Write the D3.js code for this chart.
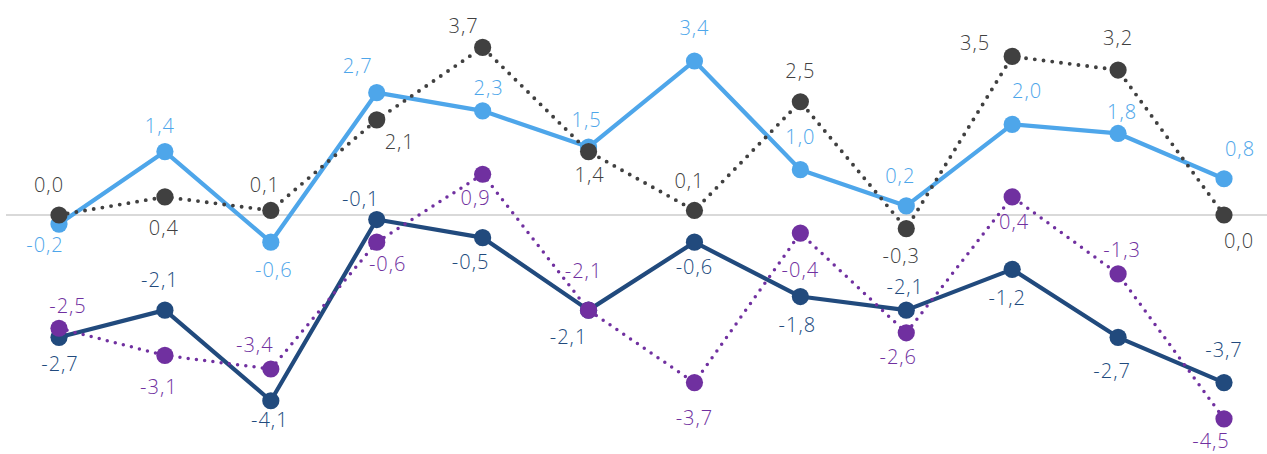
<!DOCTYPE html>
<html>
<head>
<meta charset="utf-8">
<script src="https://cdn.jsdelivr.net/npm/d3@7"></script>
<style>
  html, body { margin: 0; padding: 0; background: #ffffff; }
  svg { display: block; }
  text { font-family: "Open Sans", "Noto Sans", sans-serif; font-size: 20px; font-weight: 300; }
</style>
</head>
<body>
<svg id="chart" width="1267" height="454"></svg>
<script>
// ---- data ----
const categories = ["1","2","3","4","5","6","7","8","9","10","11","12"];
const seriesLightBlue = [-0.2, 1.4, -0.6, 2.7, 2.3, 1.5, 3.4, 1.0, 0.2, 2.0, 1.8, 0.8];
const seriesGray      = [0.0, 0.4, 0.1, 2.1, 3.7, 1.4, 0.1, 2.5, -0.3, 3.5, 3.2, 0.0];
const seriesDarkBlue  = [-2.7, -2.1, -4.1, -0.1, -0.5, -2.1, -0.6, -1.8, -2.1, -1.2, -2.7, -3.7];
const seriesPurple    = [-2.5, -3.1, -3.4, -0.6, 0.9, -2.1, -3.7, -0.4, -2.6, 0.4, -1.3, -4.5];

// ---- label nudges (layout only) ----
const nudgeLightBlue = [[-14,21],[-5,-26],[3,28],[-19,-27],[6,-23],[-2,-27],[0,-33],[0,-33],[-6,-30],[15,-34],[4,-22],[16,-30]];
const nudgeGray      = [[-10,-30],[-1,31],[-6,-26],[23,22],[-19,-22],[1,23],[-5,-30],[0,-31],[-5,27],[-37,-14],[0,-32],[15,26]];
const nudgeDarkBlue  = [[1,26],[-5,-30],[-1,19],[-16,-21],[-12,24],[-20,27],[0,25],[-3,28],[-1,-23],[-5,28],[-6,33],[0,-33]];
const nudgePurple    = [[9,-22],[-6,31],[-16,-24],[11,22],[-7,24],[-5,-39],[0,35],[0,37],[-8,24],[2,25],[4,-24],[-13,22]];

const series = [
  { values: seriesLightBlue, nudge: nudgeLightBlue, color: "#4EA6EA", width: 4.2, dash: null },
  { values: seriesGray,      nudge: nudgeGray,      color: "#404040", width: 3.9, dash: "0 8.8" },
  { values: seriesDarkBlue,  nudge: nudgeDarkBlue,  color: "#214A7D", width: 4.2, dash: null },
  { values: seriesPurple,    nudge: nudgePurple,    color: "#7030A0", width: 3.5, dash: "0 8.3" }
];

const svg = d3.select("#chart");
const x = d3.scalePoint().domain(categories).range([59, 1224]);
const y = d3.scaleLinear().domain([-5, 4]).range([441.5, 33.8]);

// zero line
svg.append("line")
  .attr("x1", 6).attr("x2", 1267)
  .attr("y1", y(0)).attr("y2", y(0))
  .attr("stroke", "#D9D9D9").attr("stroke-width", 2);

const fmt = v => v.toFixed(1).replace(".", ",");
const line = d3.line().x((d, i) => x(categories[i])).y(d => y(d));

series.forEach(s => {
  const g = svg.append("g");
  g.append("path")
    .attr("d", line(s.values))
    .attr("fill", "none")
    .attr("stroke", s.color)
    .attr("stroke-width", s.width)
    .attr("stroke-linecap", "round")
    .attr("stroke-linejoin", "round")
    .attr("stroke-dasharray", s.dash);
  g.selectAll("circle").data(s.values).join("circle")
    .attr("cx", (d, i) => x(categories[i]))
    .attr("cy", d => y(d))
    .attr("r", 8.6)
    .attr("fill", s.color);
});

series.forEach(s => {
  svg.append("g").selectAll("text").data(s.values).join("text")
    .attr("x", (d, i) => x(categories[i]) + s.nudge[i][0])
    .attr("y", (d, i) => y(d) + s.nudge[i][1])
    .attr("dy", "0.36em")
    .attr("text-anchor", "middle")
    .attr("fill", s.color)
    .attr("letter-spacing", "1px")
    .text(d => fmt(d));
});
</script>
</body>
</html>
